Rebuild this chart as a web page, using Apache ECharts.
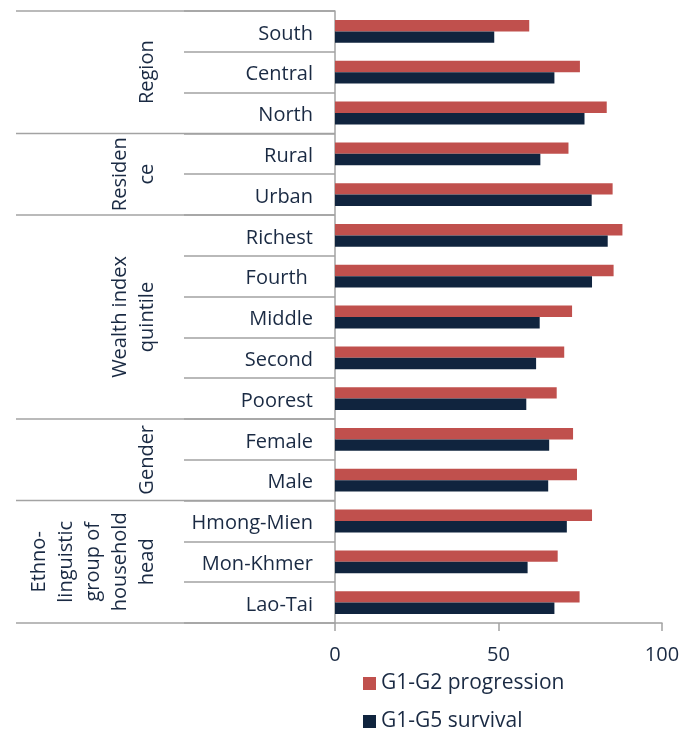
<!DOCTYPE html>
<html>
<head>
<meta charset="utf-8">
<script src="https://cdn.jsdelivr.net/npm/echarts@6/dist/echarts.min.js"></script>
<style>
  html, body { margin: 0; padding: 0; background: #ffffff; }
  #chart { width: 683px; height: 735px; }
</style>
</head>
<body>
<div id="chart"></div>
<script>
// Categories, top to bottom
const categories = ['South', 'Central', 'North', 'Rural', 'Urban', 'Richest', 'Fourth ', 'Middle', 'Second', 'Poorest', 'Female', 'Male', 'Hmong-Mien', 'Mon-Khmer', 'Lao-Tai'];
// Rates (%)
const progression = [59.4, 74.9, 83.1, 71.4, 84.9, 87.9, 85.2, 72.5, 70.1, 67.8, 72.8, 74.0, 78.6, 68.1, 74.8];
const survival = [48.7, 67.1, 76.3, 62.8, 78.5, 83.4, 78.6, 62.6, 61.5, 58.5, 65.5, 65.2, 70.9, 58.9, 67.1];
const seriesNames = ['G1-G2 progression', 'G1-G5 survival'];
// Grouping of categories: label lines, first index, count
const groupLabels = [['Region'], ['Residen', 'ce'], ['Wealth index', 'quintile'], ['Gender'], ['Ethno-', 'linguistic', 'group of', 'household', 'head']];
const groupStarts = [0, 3, 5, 10, 12];
const groupSizes = [3, 2, 5, 2, 3];

const FONT = '"Open Sans", "Noto Sans", sans-serif';
const TEXT = '#1A2A43';
const LINE = '#A3A3A3';
const FS = 20;

const chart = echarts.init(document.getElementById('chart'), null, { renderer: 'canvas' });

const legendStyle = {
  orient: 'vertical',
  left: 363,
  padding: 0,
  icon: 'rect',
  itemWidth: 13,
  itemHeight: 13,
  itemGap: 6,
  textStyle: { fontFamily: FONT, fontSize: 21, color: TEXT }
};

chart.setOption({
  animation: false,
  backgroundColor: '#ffffff',
  textStyle: { fontFamily: FONT, color: TEXT },
  grid: { left: 335, right: 21, top: 11, bottom: 112, containLabel: false },
  legend: [
    Object.assign({}, legendStyle, { top: 673, data: [seriesNames[0]] }),
    Object.assign({}, legendStyle, { top: 711, data: [seriesNames[1]] })
  ],
  xAxis: {
    type: 'value',
    min: 0,
    max: 100,
    interval: 50,
    axisLine: { show: true, lineStyle: { color: LINE, width: 1.5 } },
    axisTick: { show: true, length: 8, lineStyle: { color: LINE, width: 1.5 } },
    axisLabel: { fontFamily: FONT, fontSize: FS, color: TEXT, margin: 22 },
    splitLine: { show: false }
  },
  yAxis: {
    type: 'category',
    inverse: true,
    data: categories,
    axisLine: { show: true, lineStyle: { color: LINE, width: 1.5 } },
    axisTick: { show: true, length: 151, lineStyle: { color: LINE, width: 1.5 } },
    axisLabel: {
      fontFamily: FONT, fontSize: FS, color: TEXT, margin: 22,
      formatter: v => '{c|' + v + '}',
      rich: { c: { fontFamily: FONT, fontSize: FS, color: TEXT, padding: [5, 0, 0, 0] } }
    }
  },
  series: [
    {
      name: seriesNames[0],
      type: 'bar',
      data: progression,
      barGap: '0%',
      barCategoryGap: '44%',
      itemStyle: { color: '#C0504D' }
    },
    {
      name: seriesNames[1],
      type: 'bar',
      data: survival,
      barGap: '0%',
      barCategoryGap: '44%',
      itemStyle: { color: '#10243E' }
    }
  ]
});

// Group separators and rotated group titles, placed from the category axis
const c0 = chart.convertToPixel({ yAxisIndex: 0 }, 0);
const c1 = chart.convertToPixel({ yAxisIndex: 0 }, 1);
const band = c1 - c0;
const axisX = chart.convertToPixel({ xAxisIndex: 0 }, 0);
const graphics = [];
const LH = 27;
for (let g = 0; g < groupLabels.length; g++) {
  const top = chart.convertToPixel({ yAxisIndex: 0 }, groupStarts[g]) - band / 2;
  const bottom = top + band * groupSizes[g];
  graphics.push({
    type: 'line',
    shape: { x1: 16, y1: top, x2: axisX, y2: top },
    style: { stroke: LINE, lineWidth: 1.5 }
  });
  if (g === groupLabels.length - 1) {
    graphics.push({
      type: 'line',
      shape: { x1: 16, y1: bottom, x2: axisX, y2: bottom },
      style: { stroke: LINE, lineWidth: 1.5 }
    });
  }
  const lines = groupLabels[g];
  const cx = 161 - lines.length * LH / 2;
  graphics.push({
    type: 'text',
    x: cx,
    y: (top + bottom) / 2,
    rotation: Math.PI / 2,
    style: {
      text: lines.join('\n'),
      font: FS + 'px ' + FONT,
      fill: TEXT,
      align: 'center',
      verticalAlign: 'middle',
      lineHeight: LH
    }
  });
}
chart.setOption({ graphic: graphics });
</script>
</body>
</html>
